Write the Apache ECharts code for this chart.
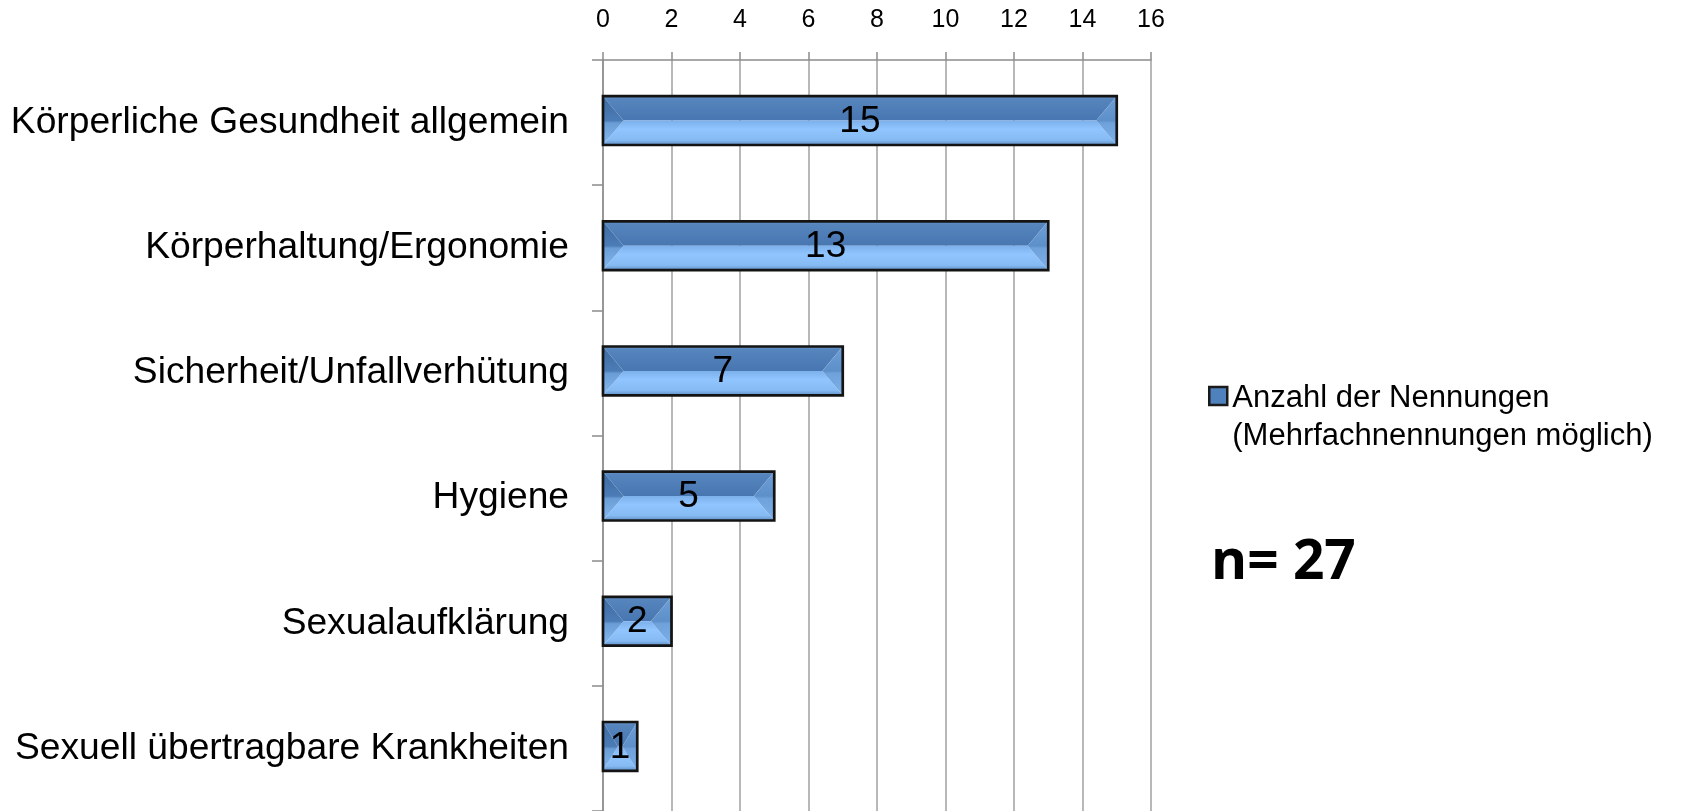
<!DOCTYPE html>
<html>
<head>
<meta charset="utf-8">
<script src="https://cdn.jsdelivr.net/npm/echarts@6/dist/echarts.min.js"></script>
<style>
html,body{margin:0;padding:0;background:#fff;}
#chart{width:1683px;height:811px;}
</style>
</head>
<body>
<div id="chart"></div>
<script>
const categories = [
  'Körperliche Gesundheit allgemein',
  'Körperhaltung/Ergonomie',
  'Sicherheit/Unfallverhütung',
  'Hygiene',
  'Sexualaufklärung',
  'Sexuell übertragbare Krankheiten'
];
const values = [15, 13, 7, 5, 2, 1];
const seriesName = 'Anzahl der Nennungen\n(Mehrfachnennungen möglich)';
const sampleSize = 'n= 27';

const FONT = '"Liberation Sans", Arial, sans-serif';

function lg(stops) {
  return new echarts.graphic.LinearGradient(0, 0, 0, 1,
    stops.map(s => ({offset: s[0], color: s[1]})));
}

function renderItem(params, api) {
  const v = api.value(0);
  const ci = api.value(1);
  const p0 = api.coord([0, ci]);
  const p1 = api.coord([v, ci]);
  const band = api.size([0, 1])[1];
  const h = band * 0.39;
  const x0 = p0[0], x1 = p1[0];
  const yc = p0[1] - 2;
  const y0 = yc - h / 2, y1 = yc + h / 2;
  const ym = y0 + h * 0.5;
  const w = x1 - x0;
  const b = Math.min(h * 0.42, w / 2.3);
  return {
    type: 'group',
    children: [
      {type: 'polygon', shape: {points: [[x0, y0], [x1, y0], [x1 - b, ym], [x0 + b, ym]]},
        style: {fill: lg([[0, '#6c97ca'], [0.12, '#5684bd'], [1, '#4876b0']])}},
      {type: 'polygon', shape: {points: [[x0 + b, ym], [x1 - b, ym], [x1, y1], [x0, y1]]},
        style: {fill: lg([[0, '#7cb0ea'], [0.35, '#90c5ff'], [0.8, '#86baf2'], [1, '#5f8fc6']])}},
      {type: 'polygon', shape: {points: [[x0, y0], [x0 + b, ym], [x0, y1]]},
        style: {fill: lg([[0, '#3d6aa2'], [0.5, '#4c7cb6'], [0.55, '#6a9cd5'], [1, '#86b9f1']])}},
      {type: 'polygon', shape: {points: [[x1, y0], [x1 - b, ym], [x1, y1]]},
        style: {fill: lg([[0, '#6e9fd7'], [0.5, '#5d8fc9'], [0.55, '#6fa1da'], [1, '#7db0e8']])}},
      {type: 'rect', shape: {x: x0, y: y0, width: w, height: h},
        style: {fill: 'none', stroke: '#141414', lineWidth: 2.7}},
      {type: 'text', x: (x0 + x1) / 2, y: yc + 1,
        style: {text: String(v), fill: '#000', font: '37px ' + FONT, align: 'center', verticalAlign: 'middle'}}
    ]
  };
}

const chart = echarts.init(document.getElementById('chart'), null, {renderer: 'canvas'});
chart.setOption({
  animation: false,
  backgroundColor: '#fff',
  grid: {left: 603, top: 60, right: 532, bottom: -5, containLabel: false},
  xAxis: {
    type: 'value', position: 'top', min: 0, max: 16, interval: 2,
    axisLine: {show: true, lineStyle: {color: '#8c8c8c', width: 1.5}},
    axisTick: {show: true, length: 8, lineStyle: {color: '#8c8c8c', width: 1.5}},
    axisLabel: {color: '#000', fontFamily: FONT, fontSize: 25, margin: 27},
    splitLine: {show: true, lineStyle: {color: '#a0a0a0', width: 1.5}}
  },
  yAxis: {
    type: 'category', inverse: true, data: categories,
    axisLine: {show: true, lineStyle: {color: '#8c8c8c', width: 1.5}},
    axisTick: {show: true, length: 11, lineStyle: {color: '#8c8c8c', width: 1.5}},
    axisLabel: {color: '#000', fontFamily: FONT, fontSize: 37.2, margin: 34}
  },
  legend: {
    show: true, left: 1203, top: 352, orient: 'vertical',
    icon: 'rect', itemWidth: 18, itemHeight: 18, itemGap: 0,
    data: [seriesName],
    formatter: name => '{g| }\n' + name.split('\n').map(s => '{t|' + s + '}').join('\n'),
    itemStyle: {color: '#4f81bd', borderColor: '#1a1a1a', borderWidth: 2.5},
    textStyle: {
      color: '#000', fontFamily: FONT, fontSize: 31,
      rich: {
        g: {fontSize: 2, lineHeight: 42},
        t: {color: '#000', fontFamily: FONT, fontSize: 31, lineHeight: 38}
      }
    }
  },
  graphic: [{
    type: 'text', x: 1211, y: 563,
    style: {text: sampleSize, fill: '#000', font: 'bold 55px "Open Sans", "DejaVu Sans", sans-serif',
      verticalAlign: 'middle'}
  }],
  series: [{
    type: 'custom', name: seriesName,
    renderItem: renderItem,
    itemStyle: {color: '#4f81bd', borderColor: '#1a1a1a', borderWidth: 2.5},
    encode: {x: 0, y: 1},
    data: values.map((v, i) => [v, i])
  }]
});
</script>
</body>
</html>
